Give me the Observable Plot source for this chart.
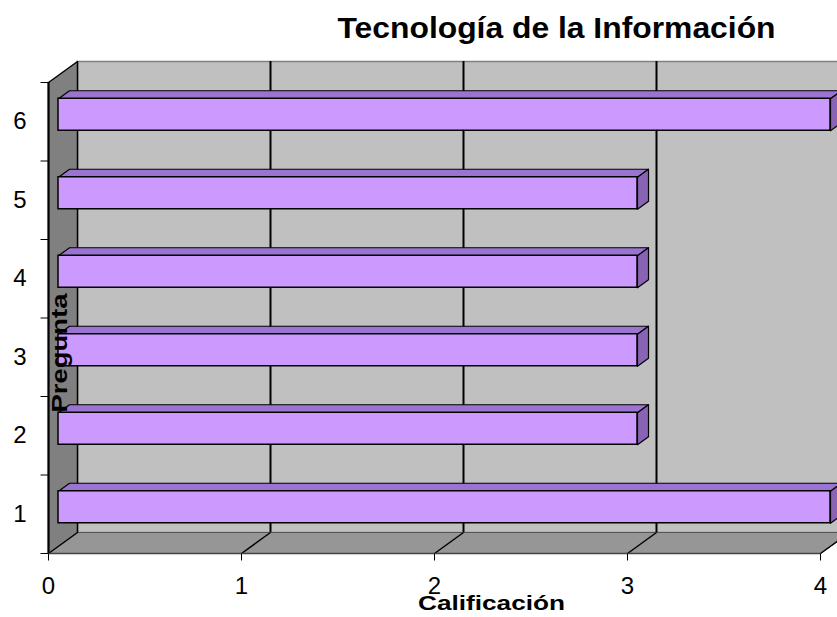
<!DOCTYPE html>
<html><head><meta charset="utf-8">
<script src="https://cdn.jsdelivr.net/npm/d3@7"></script>
<script src="https://cdn.jsdelivr.net/npm/@observablehq/plot@0.6"></script>
<style>
body{margin:0;background:#fff}
svg{font-family:"Liberation Sans",Arial,sans-serif;overflow:visible}
</style>
</head><body><div id="chart"></div>
<script>
// ---- data ----
const categories = ["1","2","3","4","5","6"];
const values = [4,3,3,3,3,4];
const xTicks = [0,1,2,3,4];
const yBoundaries = [0.5,1.5,2.5,3.5,4.5,5.5,6.5];
const titleText = "Tecnología de la Información";
const xTitle = "Calificación";
const yTitle = "Pregunta";

// ---- layout ----
const W=837,H=617, mL=48, mR=17, mT=82, mB=64;
const xDomain=[0,4], yDomain=[0.5,6.5];
const pxX=(W-mL-mR)/(xDomain[1]-xDomain[0]);
const pxY=(H-mT-mB)/(yDomain[1]-yDomain[0]);
const toU = (px,py)=>[px/pxX, -py/pxY];
const [wdx,wdy] = toU(29,-21);   // wall depth
const [bdx,bdy] = toU(11,-8);    // bar depth
const barOffDx=10, barOffDy=-7;  // bar front plane offset (px)
const bh = 16/pxY;               // bar half height

const rows = categories.map((c,i)=>({cat:+c, v:values[i]}));

const leftWall = [[0,0.5],[0,6.5],[wdx,6.5+wdy],[wdx,0.5+wdy]].map(([x,y])=>({id:"w",x,y}));
const floor = [[0,0.5],[4,0.5],[4+wdx,0.5+wdy],[wdx,0.5+wdy]].map(([x,y])=>({id:"f",x,y}));

const topFaces = rows.flatMap(r=>{
  const t=r.cat+bh;
  return [[0,t],[r.v,t],[r.v+bdx,t+bdy],[bdx,t+bdy]].map(([x,y])=>({id:r.cat,x,y}));
});
const sideFaces = rows.flatMap(r=>{
  const t=r.cat+bh, b=r.cat-bh;
  return [[r.v,b],[r.v,t],[r.v+bdx,t+bdy],[r.v+bdx,b+bdy]].map(([x,y])=>({id:r.cat,x,y}));
});

const chart = Plot.plot({
  width:W, height:H,
  marginLeft:mL, marginRight:mR, marginTop:mT, marginBottom:mB,
  x:{domain:xDomain, axis:null},
  y:{domain:yDomain, axis:null},
  style:{fontFamily:'"Liberation Sans",Arial,sans-serif', background:"transparent"},
  marks:[
    // back wall
    Plot.frame({fill:"#c0c0c0", stroke:"#808080", strokeWidth:1.5, dx:29, dy:-21}),
    Plot.ruleX([1,2,3,4], {y1:0.5, y2:6.5, dx:29, dy:-21, stroke:"#000", strokeWidth:2}),
    // floor
    Plot.line(floor, {x:"x", y:"y", z:"id", curve:"linear-closed", fill:"#969696", stroke:"#555", strokeWidth:1}),
    Plot.link(xTicks.slice(1), {x1:d=>d, y1:0.5, x2:d=>d+wdx, y2:0.5+wdy, stroke:"#000", strokeWidth:1.5}),
    // left wall
    Plot.line(leftWall, {x:"x", y:"y", z:"id", curve:"linear-closed", fill:"#808080", stroke:"#000", strokeWidth:1.5}),
    // bars
    Plot.line(topFaces, {x:"x", y:"y", z:"id", curve:"linear-closed", fill:"#9b74d1", stroke:"#000", strokeWidth:1.2, dx:barOffDx, dy:barOffDy}),
    Plot.line(sideFaces, {x:"x", y:"y", z:"id", curve:"linear-closed", fill:"#8a64b4", stroke:"#000", strokeWidth:1.2, dx:barOffDx, dy:barOffDy}),
    Plot.rect(rows, {x1:0, x2:"v", y1:d=>d.cat-bh, y2:d=>d.cat+bh, fill:"#cc99ff", stroke:"#000", strokeWidth:1.5, dx:barOffDx, dy:barOffDy}),
    // axes
    Plot.ruleX([0], {y1:0.5, y2:6.5, stroke:"#000", strokeWidth:2}),
    Plot.ruleY([0.5], {x1:0, x2:4, stroke:"#444", strokeWidth:1.5}),
    Plot.link(xTicks, {x1:d=>d, x2:d=>d, y1:0.5, y2:0.5-7/pxY, stroke:"#000"}),
    Plot.link(yBoundaries, {x1:0, x2:-8/pxX, y1:d=>d, y2:d=>d, stroke:"#000"}),
    Plot.text(xTicks, {x:d=>d, frameAnchor:"bottom", lineAnchor:"middle", dy:33, text:d=>String(d), fontSize:24, fill:"#000"}),
    Plot.text(categories, {x:0, y:d=>+d, dx:-22, textAnchor:"end", text:d=>d, fontSize:24, fill:"#000"}),
    // titles
    Plot.text([titleText], {frameAnchor:"top", lineAnchor:"middle", textAnchor:"middle", dx:122, dy:-54, text:d=>d, fontSize:29, fontWeight:"bold", fill:"#000"}),
    Plot.text([xTitle], {frameAnchor:"bottom", lineAnchor:"middle", textAnchor:"middle", dx:57, dy:50, text:d=>d, fontSize:21, fontWeight:"bold", fill:"#000"}),
    Plot.text([yTitle], {frameAnchor:"left", lineAnchor:"middle", textAnchor:"middle", dx:11, dy:35, rotate:-90, text:d=>d, fontSize:22, fontWeight:"bold", fill:"#000"})
  ]
});
document.getElementById("chart").appendChild(chart);
// stretch titles horizontally to match the reference's wide rendering
const lengths = {[titleText]:438, [xTitle]:147, [yTitle]:119};
d3.select(chart).selectAll("text").each(function(){
  const t = this.textContent;
  if (lengths[t]) d3.select(this).attr("textLength", lengths[t]).attr("lengthAdjust","spacingAndGlyphs");
});
</script>
</body></html>
